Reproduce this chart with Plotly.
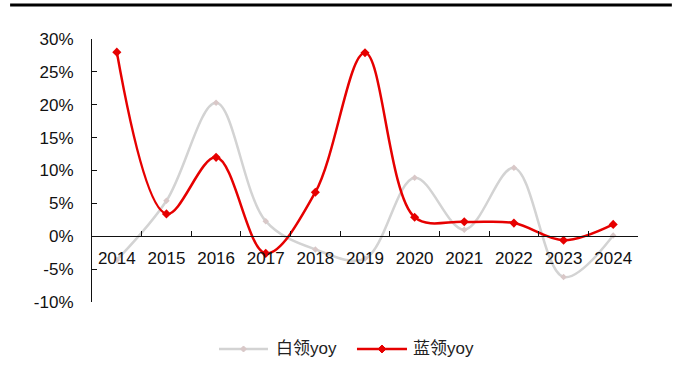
import plotly.graph_objects as go

years = ["2014", "2015", "2016", "2017", "2018", "2019", "2020", "2021", "2022", "2023", "2024"]
white_yoy = [-3.6, 5.4, 20.3, 2.3, -2.0, -3.4, 8.9, 1.0, 10.4, -6.2, 0.1]
blue_yoy = [28.0, 3.4, 12.0, -2.6, 6.7, 27.9, 2.9, 2.2, 2.0, -0.6, 1.8]
y_tick_vals = [-10, -5, 0, 5, 10, 15, 20, 25, 30]
y_tick_text = ["-10%", "-5%", "0%", "5%", "10%", "15%", "20%", "25%", "30%"]
series_names = ["白领yoy", "蓝领yoy"]

font_family = "Liberation Sans, Arial, Noto Sans CJK SC, sans-serif"
gray_line = "#D3D3D3"
gray_marker = "#D9C8C8"
red = "#E60000"

fig = go.Figure()
fig.add_trace(go.Scatter(
    x=years, y=white_yoy, name=series_names[0], mode="lines+markers",
    line=dict(color=gray_line, width=2.5, shape="spline", smoothing=1.0),
    marker=dict(symbol="diamond", size=5, color=gray_marker),
))
fig.add_trace(go.Scatter(
    x=years, y=blue_yoy, name=series_names[1], mode="lines+markers",
    line=dict(color=red, width=2.5, shape="spline", smoothing=1.0),
    marker=dict(symbol="diamond", size=7, color=red),
))

# custom legend (longer line samples, as in the reference)
LEG_Y = -0.1787
legend_items = [
    dict(x0=0.2326, x1=0.3223, xm=0.2775, xt=0.3333, color=gray_line, mcolor=gray_marker, ms=3),
    dict(x0=0.4853, x1=0.5769, xm=0.5311, xt=0.5842, color=red, mcolor=red, ms=4),
]
shapes = [dict(type="line", xref="paper", yref="paper",
               x0=-0.150, x1=1.062, y0=1.129, y1=1.129,
               line=dict(color="black", width=3))]
annotations = []
for name, it in zip(series_names, legend_items):
    shapes.append(dict(type="line", xref="paper", yref="paper",
                       x0=it["x0"], x1=it["x1"], y0=LEG_Y, y1=LEG_Y,
                       line=dict(color=it["color"], width=2.5)))
    s = it["ms"]
    shapes.append(dict(type="path", xref="paper", yref="paper",
                       xsizemode="pixel", ysizemode="pixel",
                       xanchor=it["xm"], yanchor=LEG_Y,
                       path=f"M0,{-s} L{s},0 L0,{s} L{-s},0 Z",
                       fillcolor=it["mcolor"], line=dict(color=it["mcolor"], width=1)))
    annotations.append(dict(xref="paper", yref="paper", x=it["xt"], y=LEG_Y,
                            xanchor="left", yanchor="middle", showarrow=False,
                            text=name, font=dict(size=17, color="#222")))

fig.update_layout(
    width=680, height=385,
    margin=dict(l=92, r=42, t=39, b=83),
    paper_bgcolor="white", plot_bgcolor="white",
    font=dict(family=font_family, size=17, color="#111"),
    showlegend=False,
    xaxis=dict(
        type="category", anchor="free", position=0.25,
        showline=True, linecolor="#111", linewidth=1.2,
        ticks="inside", ticklen=5, tickcolor="#111", tickson="boundaries",
        showgrid=False, zeroline=False, tickfont=dict(size=17),
        ticklabelstandoff=6,
        range=[-0.5, 10.5],
    ),
    yaxis=dict(
        range=[-10, 30], tickvals=y_tick_vals, ticktext=y_tick_text,
        showline=True, linecolor="#111", linewidth=1.2,
        ticks="inside", ticklen=5, tickcolor="#111",
        showgrid=False, zeroline=False, tickfont=dict(size=17),
        ticklabelstandoff=14,
    ),
    shapes=shapes,
    annotations=annotations,
)

fig.write_html("out.html")
